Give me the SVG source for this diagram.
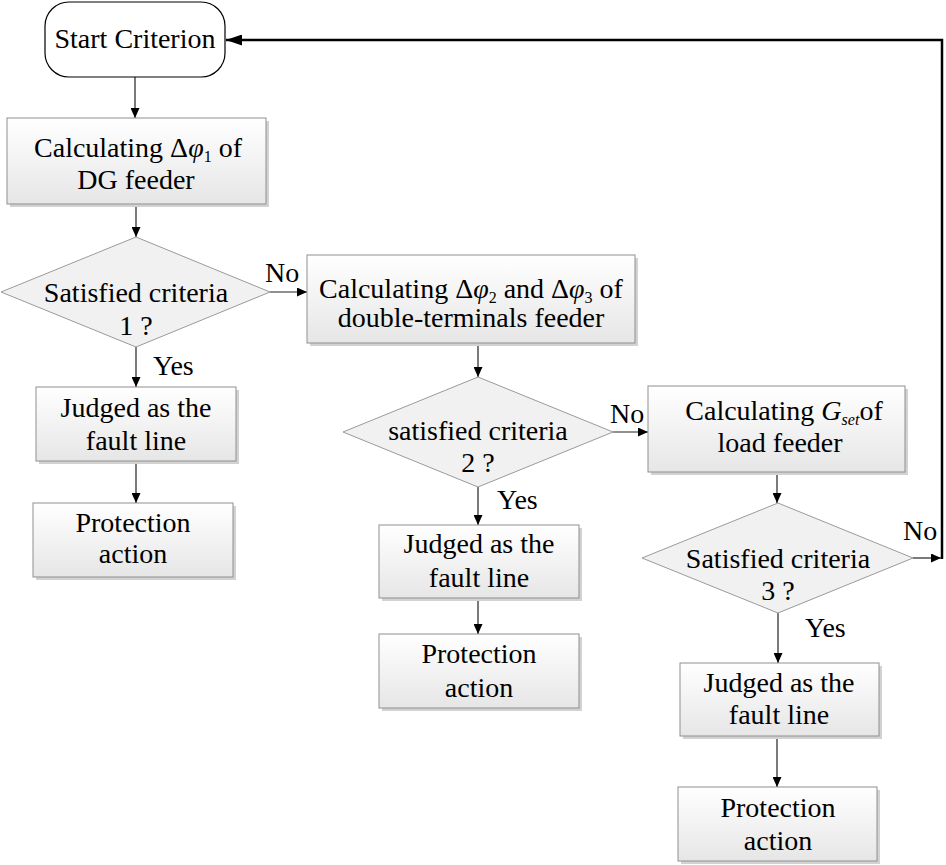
<svg xmlns="http://www.w3.org/2000/svg" width="946" height="865" viewBox="0 0 946 865">
<style>
.box{fill:url(#gb);stroke:#8f8f8f;stroke-width:1}
.sh{fill:#d2d2d2}
.dia{fill:#f1f1f1;stroke:#9a9a9a;stroke-width:1}
.t{font-family:"Liberation Serif","Times New Roman",serif;font-size:28px;fill:#000;text-anchor:middle}
.l{font-family:"Liberation Serif","Times New Roman",serif;font-size:28px;fill:#000}
.it{font-style:italic}
.sub{font-size:16px}
.c{fill:none;stroke:#222;stroke-width:1.2}
.loop{fill:none;stroke:#000;stroke-width:2.5}
</style>
<defs>
<linearGradient id="gb" x1="0" y1="0" x2="0" y2="1">
<stop offset="0" stop-color="#ffffff"/>
<stop offset="1" stop-color="#e6e6e6"/>
</linearGradient>
<marker id="a" markerUnits="userSpaceOnUse" markerWidth="10" markerHeight="9" refX="10" refY="4.5" orient="auto">
<path d="M0,0 L10,4.5 L0,9 Z" fill="#000"/>
</marker>
<marker id="ab" markerUnits="userSpaceOnUse" markerWidth="16" markerHeight="11" refX="16" refY="5.5" orient="auto">
<path d="M0,0 L16,5.5 L0,11 Z" fill="#000"/>
</marker>
</defs>

<g id="connectors">
<line class="c" x1="135" y1="77" x2="135" y2="118" marker-end="url(#a)"/>
<line class="c" x1="136" y1="204" x2="136" y2="237" marker-end="url(#a)"/>
<line class="c" x1="270" y1="292" x2="307" y2="292" marker-end="url(#a)"/>
<line class="c" x1="136" y1="347" x2="136" y2="387" marker-end="url(#a)"/>
<line class="c" x1="136" y1="461" x2="136" y2="503" marker-end="url(#a)"/>
<line class="c" x1="478" y1="343" x2="478" y2="377" marker-end="url(#a)"/>
<line class="c" x1="613" y1="432" x2="648" y2="432" marker-end="url(#a)"/>
<line class="c" x1="478" y1="487" x2="478" y2="525" marker-end="url(#a)"/>
<line class="c" x1="478" y1="598" x2="478" y2="634" marker-end="url(#a)"/>
<line class="c" x1="777" y1="472" x2="777" y2="503" marker-end="url(#a)"/>
<line class="c" x1="913" y1="558" x2="941" y2="558" marker-end="url(#a)"/>
<line class="c" x1="778" y1="613" x2="778" y2="663" marker-end="url(#a)"/>
<line class="c" x1="777" y1="736" x2="777" y2="787" marker-end="url(#a)"/>
<path class="loop" d="M942,559 V40 H226" marker-end="url(#ab)"/>
<text class="l" x="265" y="282">No</text>
<text class="l" x="153" y="375">Yes</text>
<text class="l" x="610" y="423">No</text>
<text class="l" x="497" y="509">Yes</text>
<text class="l" x="903" y="540">No</text>
<text class="l" x="805" y="637">Yes</text>
</g>

<g id="start">
<rect x="45" y="2" width="180" height="75" rx="24" fill="#fff" stroke="#000" stroke-width="1.2"/>
<text class="t" x="135" y="48">Start Criterion</text>
</g>

<g id="calc1">
<rect class="sh" x="10" y="121" width="259" height="86"/>
<rect class="box" x="7" y="118" width="259" height="86"/>
<text class="t" x="138" y="157">Calculating Δ<tspan class="it">φ</tspan><tspan class="sub" dy="5">1</tspan><tspan dy="-5"> of</tspan></text>
<text class="t" x="136" y="189">DG feeder</text>
</g>

<g id="crit1">
<polygon class="dia" points="136,237 270,292 136,347 1,292"/>
<text class="t" x="136" y="302">Satisfied criteria</text>
<text class="t" x="136" y="335">1 ?</text>
</g>

<g id="judge1">
<rect class="sh" x="39" y="390" width="200" height="74"/>
<rect class="box" x="36" y="387" width="200" height="74"/>
<text class="t" x="136" y="417">Judged as the</text>
<text class="t" x="136" y="450">fault line</text>
</g>

<g id="prot1">
<rect class="sh" x="36" y="506" width="200" height="74"/>
<rect class="box" x="33" y="503" width="200" height="74"/>
<text class="t" x="133" y="532">Protection</text>
<text class="t" x="133" y="563">action</text>
</g>

<g id="calc2">
<rect class="sh" x="310" y="258" width="328" height="88"/>
<rect class="box" x="307" y="255" width="328" height="88"/>
<text class="t" x="471" y="298">Calculating Δ<tspan class="it">φ</tspan><tspan class="sub" dy="5">2</tspan><tspan dy="-5"> and Δ</tspan><tspan class="it">φ</tspan><tspan class="sub" dy="5">3</tspan><tspan dy="-5"> of</tspan></text>
<text class="t" x="471" y="327">double-terminals feeder</text>
</g>

<g id="crit2">
<polygon class="dia" points="478,377 613,432 478,487 343,432"/>
<text class="t" x="478" y="440">satisfied criteria</text>
<text class="t" x="478" y="472">2 ?</text>
</g>

<g id="judge2">
<rect class="sh" x="382" y="528" width="200" height="73"/>
<rect class="box" x="379" y="525" width="200" height="73"/>
<text class="t" x="479" y="553">Judged as the</text>
<text class="t" x="479" y="587">fault line</text>
</g>

<g id="prot2">
<rect class="sh" x="382" y="637" width="200" height="74"/>
<rect class="box" x="379" y="634" width="200" height="74"/>
<text class="t" x="479" y="663">Protection</text>
<text class="t" x="479" y="697">action</text>
</g>

<g id="calc3">
<rect class="sh" x="651" y="389" width="257" height="86"/>
<rect class="box" x="648" y="386" width="257" height="86"/>
<text class="t" x="784" y="420">Calculating <tspan class="it">G</tspan><tspan class="sub it" dy="5">set</tspan><tspan dy="-5">of</tspan></text>
<text class="t" x="780" y="452">load feeder</text>
</g>

<g id="crit3">
<polygon class="dia" points="778,503 913,558 778,613 642,558"/>
<text class="t" x="778" y="568">Satisfied criteria</text>
<text class="t" x="778" y="600">3 ?</text>
</g>

<g id="judge3">
<rect class="sh" x="683" y="666" width="199" height="73"/>
<rect class="box" x="680" y="663" width="199" height="73"/>
<text class="t" x="779" y="692">Judged as the</text>
<text class="t" x="779" y="724">fault line</text>
</g>

<g id="prot3">
<rect class="sh" x="681" y="790" width="199" height="74"/>
<rect class="box" x="678" y="787" width="199" height="74"/>
<text class="t" x="778" y="817">Protection</text>
<text class="t" x="778" y="850">action</text>
</g>
</svg>
